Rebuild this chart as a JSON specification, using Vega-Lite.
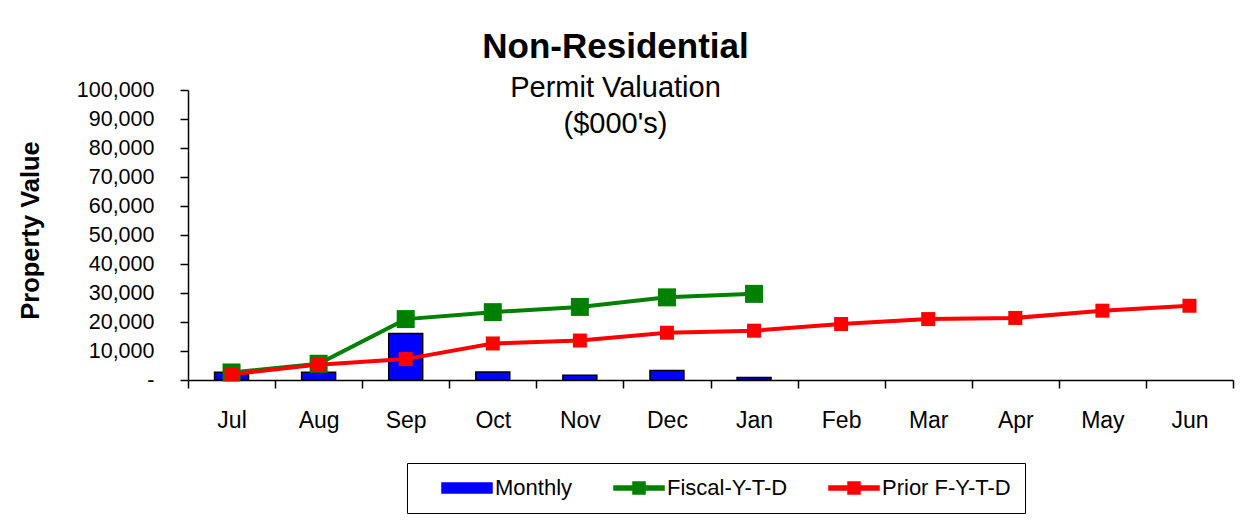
{
  "$schema": "https://vega.github.io/schema/vega-lite/v6.json",
  "autosize": {"type": "none"},
  "width": 1045,
  "height": 290,
  "padding": {"left": 188, "top": 90, "right": 14, "bottom": 142},
  "background": "white",
  "config": {
    "font": "Liberation Sans",
    "view": {"stroke": null},
    "axis": {"grid": false, "domainColor": "black", "domainWidth": 1.5, "tickColor": "black", "tickWidth": 1.5, "tickSize": 8, "labelColor": "black", "labelFont": "Liberation Sans", "titleFont": "Liberation Sans", "titleColor": "black"}
  },
  "title": {
    "text": "Non-Residential",
    "subtitle": ["Permit Valuation", "($000's)"],
    "font": "Liberation Sans",
    "fontSize": 35,
    "fontWeight": "bold",
    "color": "black",
    "subtitleFont": "Liberation Sans",
    "subtitleFontSize": 29,
    "subtitleColor": "black",
    "subtitleLineHeight": 36,
    "subtitlePadding": 9,
    "offset": -60,
    "dx": -95,
    "anchor": "middle"
  },
  "data": {
    "values": [
      {"month": "Jul", "series": "Monthly", "value": 2700},
      {"month": "Aug", "series": "Monthly", "value": 2700},
      {"month": "Sep", "series": "Monthly", "value": 16000},
      {"month": "Oct", "series": "Monthly", "value": 2800},
      {"month": "Nov", "series": "Monthly", "value": 1600},
      {"month": "Dec", "series": "Monthly", "value": 3300},
      {"month": "Jan", "series": "Monthly", "value": 900},
      {"month": "Jul", "series": "Fiscal-Y-T-D", "value": 2600},
      {"month": "Aug", "series": "Fiscal-Y-T-D", "value": 5600},
      {"month": "Sep", "series": "Fiscal-Y-T-D", "value": 21000},
      {"month": "Oct", "series": "Fiscal-Y-T-D", "value": 23400},
      {"month": "Nov", "series": "Fiscal-Y-T-D", "value": 25200},
      {"month": "Dec", "series": "Fiscal-Y-T-D", "value": 28500},
      {"month": "Jan", "series": "Fiscal-Y-T-D", "value": 29700},
      {"month": "Jul", "series": "Prior F-Y-T-D", "value": 2000},
      {"month": "Aug", "series": "Prior F-Y-T-D", "value": 5300},
      {"month": "Sep", "series": "Prior F-Y-T-D", "value": 7200},
      {"month": "Oct", "series": "Prior F-Y-T-D", "value": 12600},
      {"month": "Nov", "series": "Prior F-Y-T-D", "value": 13600},
      {"month": "Dec", "series": "Prior F-Y-T-D", "value": 16300},
      {"month": "Jan", "series": "Prior F-Y-T-D", "value": 17000},
      {"month": "Feb", "series": "Prior F-Y-T-D", "value": 19300},
      {"month": "Mar", "series": "Prior F-Y-T-D", "value": 21000},
      {"month": "Apr", "series": "Prior F-Y-T-D", "value": 21400},
      {"month": "May", "series": "Prior F-Y-T-D", "value": 23900},
      {"month": "Jun", "series": "Prior F-Y-T-D", "value": 25600}
    ]
  },
  "encoding": {
    "x": {
      "field": "month", "type": "nominal",
      "sort": ["Jul", "Aug", "Sep", "Oct", "Nov", "Dec", "Jan", "Feb", "Mar", "Apr", "May", "Jun"],
      "scale": {"paddingInner": 0, "paddingOuter": 0},
      "axis": {"title": null, "labelAngle": 0, "labelFontSize": 23, "labelPadding": 21, "tickBand": "extent"}
    },
    "y": {
      "field": "value", "type": "quantitative",
      "scale": {"domain": [0, 100000], "nice": false},
      "axis": {
        "title": "Property Value",
        "titleFontSize": 25.5,
        "titleFontWeight": "bold",
        "titleX": -158,
        "titleY": 140,
        "titleBaseline": "middle",
        "titleAngle": -90,
        "values": [0, 10000, 20000, 30000, 40000, 50000, 60000, 70000, 80000, 90000, 100000],
        "labelExpr": "datum.value === 0 ? '-\u00a0\u00a0' : format(datum.value, ',')",
        "labelFontSize": 21.5,
        "labelPadding": 26
      }
    },
    "color": {
      "field": "series", "type": "nominal",
      "scale": {"domain": ["Monthly", "Fiscal-Y-T-D", "Prior F-Y-T-D"], "range": ["#0000FF", "#008000", "#FF0000"]},
      "legend": {
        "title": null,
        "orient": "none",
        "legendX": 219,
        "legendY": 373,
        "direction": "horizontal",
        "strokeColor": "black",
        "fillColor": "white",
        "padding": 14,
        "symbolSize": 400,
        "labelFontSize": 22,
        "labelColor": "black",
        "labelFont": "Liberation Sans",
        "labelOffset": 52,
        "columnPadding": 20,
        "symbolOpacity": 1,
        "encode": {
          "symbols": {
            "update": {
              "shape": {"signal": "datum.value === 'Monthly' ? 'M1,-0.5H6V0.5H1Z' : 'M1,-0.2H2.9V-0.6H4.1V-0.2H6V0.2H4.1V0.6H2.9V0.2H1Z'"},
              "fill": {"signal": "datum.value === 'Monthly' ? '#0000FF' : (datum.value === 'Fiscal-Y-T-D' ? '#008000' : '#FF0000')"},
              "stroke": {"signal": "datum.value === 'Monthly' ? 'black' : null"},
              "strokeWidth": {"value": 1.5},
              "opacity": {"value": 1},
              "fillOpacity": {"value": 1}
            }
          }
        }
      }
    }
  },
  "layer": [
    {
      "transform": [{"filter": "datum.series === 'Monthly'"}],
      "mark": {"type": "bar", "width": {"band": 0.39}, "stroke": "black", "strokeWidth": 1.5, "opacity": 1}
    },
    {
      "transform": [{"filter": "datum.series === 'Fiscal-Y-T-D'"}],
      "mark": {"type": "line", "strokeWidth": 4}
    },
    {
      "transform": [{"filter": "datum.series === 'Fiscal-Y-T-D'"}],
      "mark": {"type": "point", "shape": "square", "filled": true, "size": 324, "opacity": 1}
    },
    {
      "transform": [{"filter": "datum.series === 'Prior F-Y-T-D'"}],
      "mark": {"type": "line", "strokeWidth": 4}
    },
    {
      "transform": [{"filter": "datum.series === 'Prior F-Y-T-D'"}],
      "mark": {"type": "point", "shape": "square", "filled": true, "size": 196, "opacity": 1}
    }
  ]
}
